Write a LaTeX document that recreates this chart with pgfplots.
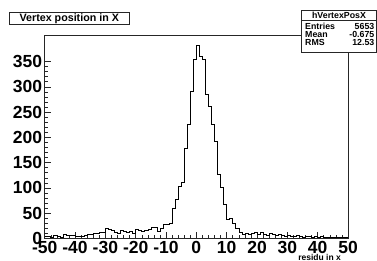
\documentclass[border=0pt]{standalone}
\usepackage{pgfplots}
\pgfplotsset{compat=1.18}
\usepackage{fontspec}
\setmainfont{Liberation Sans}
\begin{document}
\begin{tikzpicture}[x=1pt,y=1pt]
\useasboundingbox (0,0) rectangle (377,261);
\node[anchor=south east, font=\bfseries\fontsize{8.5}{9}\selectfont, inner sep=0pt] at (341,0.5) {residu in x};
\begin{axis}[
  at={(44.7pt,22.5pt)}, anchor=south west,
  scale only axis, width=303.3pt, height=202.8pt,
  xmin=-50, xmax=50, ymin=0, ymax=401,
  axis line style={line width=0.6pt, black!85},
  tick style={line width=0.5pt, black!85},
  tick align=inside, tick pos=left,
  major tick length=6.5pt, minor tick length=3.5pt,
  xtick={-50,-40,-30,-20,-10,0,10,20,30,40,50},
  xticklabels={-50,-40,-30,-20,-10,0,10,20,30,40,50},
  ytick={0,50,100,150,200,250,300,350},
  yticklabels={0,50,100,150,200,250,300,350},
  minor tick num=4,
  ticklabel style={font=\bfseries\fontsize{17.5}{18}\selectfont},
  xticklabel style={anchor=north, inner sep=0pt, yshift=-3pt},
  yticklabel style={anchor=east, inner sep=0pt, xshift=-2.5pt},
  clip=false,
]
\addplot[const plot mark left, mark=none, line width=0.6pt, black] coordinates {
(-50,5) (-49,4) (-48,3) (-47,7) (-46,5) (-45,3) (-44,8) (-43,7) (-42,7) (-41,6)
(-40,5) (-39,5) (-38,4) (-37,6) (-36,9) (-35,8) (-34,10) (-33,11) (-32,13) (-31,12)
(-30,21) (-29,19) (-28,16) (-27,12) (-26,10) (-25,16) (-24,14) (-23,12) (-22,15) (-21,10)
(-20,18) (-19,17) (-18,15) (-17,17) (-16,19) (-15,22) (-14,23) (-13,15) (-12,21) (-11,28)
(-10,29) (-9,31) (-8,60) (-7,78) (-6,103) (-5,112) (-4,179) (-3,225) (-2,291) (-1,355)
(0,382) (1,360) (2,355) (3,285) (4,261) (5,226) (6,192) (7,127) (8,101) (9,68)
(10,37) (11,39) (12,30) (13,20) (14,12) (15,9) (16,11) (17,8) (18,10) (19,12)
(20,8) (21,13) (22,9) (23,7) (24,10) (25,8) (26,6) (27,9) (28,7) (29,5)
(30,6) (31,4) (32,5) (33,6) (34,4) (35,3) (36,5) (37,4) (38,3) (39,5)
(40,3) (41,4) (42,2) (43,3) (44,2) (45,3) (46,2) (47,2) (48,3) (49,2)
(50,2)
};
\end{axis}
% title box
\node[draw=black!85, line width=0.6pt, fill=white, minimum width=120pt, minimum height=11.5pt,
  inner sep=0pt, font=\bfseries\fontsize{10.7}{11}\selectfont] at (69.3,242.6) {Vertex position in X};
% stats box
\draw[black!85, line width=0.6pt, fill=white] (301.7,208.3) rectangle (376.6,251);
\draw[black!85, line width=0.6pt] (301.7,240.3) -- (376.6,240.3);
\begin{scope}[every node/.style={font=\bfseries\fontsize{8.8}{9}\selectfont, inner sep=0pt}]
\node at (339,245.6) {hVertexPosX};
\node[anchor=west] at (305,235) {Entries};
\node[anchor=east] at (374.5,235) {5653};
\node[anchor=west] at (305,226.7) {Mean};
\node[anchor=east] at (374.5,226.7) {-0.675};
\node[anchor=west] at (305,218.6) {RMS};
\node[anchor=east] at (374.5,218.6) {12.53};
\end{scope}
\end{tikzpicture}
\end{document}
